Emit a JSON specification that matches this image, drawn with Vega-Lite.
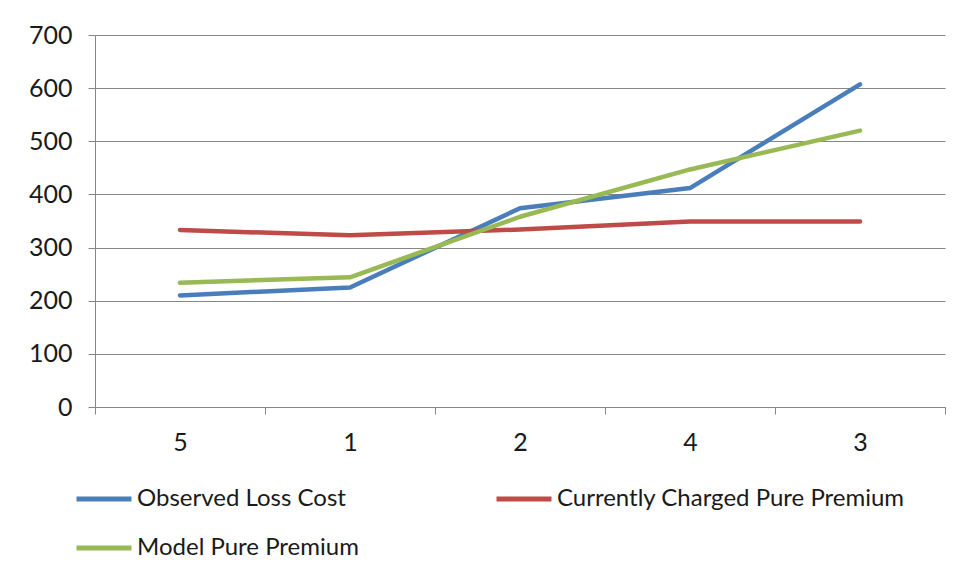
{
  "$schema": "https://vega.github.io/schema/vega-lite/v6.json",
  "width": 850,
  "height": 372,
  "autosize": {"type": "none"},
  "padding": {"left": 95, "top": 35, "right": 16, "bottom": 173},
  "background": "#ffffff",
  "config": {
    "view": {"stroke": null},
    "font": "Lato",
    "axis": {
      "labelFont": "Lato",
      "labelFontSize": 25,
      "labelColor": "#1a1a1a",
      "domainColor": "#868686",
      "tickColor": "#868686",
      "gridColor": "#868686",
      "domainWidth": 1,
      "tickWidth": 1,
      "gridWidth": 1,
      "title": null
    },
    "legend": {
      "labelFont": "Lato",
      "labelFontSize": 24,
      "labelColor": "#1a1a1a",
      "labelLimit": 0
    }
  },
  "data": {
    "values": [
      {"group": "5", "series": "Observed Loss Cost", "value": 210},
      {"group": "1", "series": "Observed Loss Cost", "value": 225},
      {"group": "2", "series": "Observed Loss Cost", "value": 374},
      {"group": "4", "series": "Observed Loss Cost", "value": 412},
      {"group": "3", "series": "Observed Loss Cost", "value": 607},
      {"group": "5", "series": "Currently Charged Pure Premium", "value": 333},
      {"group": "1", "series": "Currently Charged Pure Premium", "value": 323},
      {"group": "2", "series": "Currently Charged Pure Premium", "value": 334},
      {"group": "4", "series": "Currently Charged Pure Premium", "value": 349},
      {"group": "3", "series": "Currently Charged Pure Premium", "value": 349},
      {"group": "5", "series": "Model Pure Premium", "value": 234},
      {"group": "1", "series": "Model Pure Premium", "value": 244},
      {"group": "2", "series": "Model Pure Premium", "value": 358},
      {"group": "4", "series": "Model Pure Premium", "value": 447},
      {"group": "3", "series": "Model Pure Premium", "value": 520}
    ]
  },
  "mark": {"type": "line", "strokeWidth": 4.5, "strokeCap": "round", "strokeJoin": "round"},
  "encoding": {
    "x": {
      "field": "group",
      "type": "ordinal",
      "sort": ["5", "1", "2", "4", "3"],
      "scale": {"paddingInner": 0, "paddingOuter": 0},
      "axis": {
        "tickBand": "extent",
        "tickSize": 7,
        "labelAngle": 0,
        "labelPadding": 16,
        "grid": false
      }
    },
    "y": {
      "field": "value",
      "type": "quantitative",
      "scale": {"domain": [0, 700], "nice": false},
      "axis": {
        "values": [0, 100, 200, 300, 400, 500, 600, 700],
        "tickSize": 7,
        "labelPadding": 16,
        "grid": true
      }
    },
    "color": {
      "field": "series",
      "type": "nominal",
      "scale": {
        "domain": ["Observed Loss Cost", "Currently Charged Pure Premium", "Model Pure Premium"],
        "range": ["#4A7EBB", "#BE4B48", "#98B954"]
      },
      "legend": {
        "title": null,
        "orient": "none",
        "legendX": -21,
        "legendY": 434,
        "direction": "horizontal",
        "columns": 2,
        "columnPadding": 127,
        "rowPadding": 7,
        "symbolType": "stroke",
        "symbolSize": 3025,
        "symbolStrokeWidth": 5,
        "labelOffset": 3
      }
    }
  }
}
